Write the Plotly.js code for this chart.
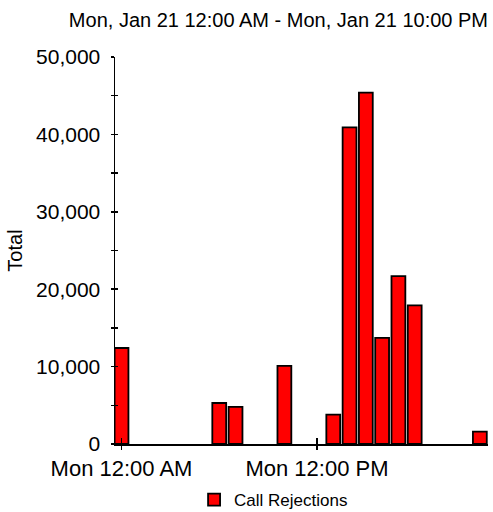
<!DOCTYPE html>
<html>
<head>
<meta charset="utf-8">
<script src="https://cdn.plot.ly/plotly-3.0.1.min.js"></script>
<style>html,body{margin:0;padding:0;background:#fff;}#chart{width:493px;height:512px;}</style>
</head>
<body>
<div id="chart"></div>
<script>
// hour of day (0 = Mon 12:00 AM)
const hours = [0, 6, 7, 10, 13, 14, 15, 16, 17, 18, 22];
const callRejections = [12400, 5300, 4800, 10100, 3800, 40900, 45400, 13700, 21700, 17900, 1600];
const seriesName = "Call Rejections";
const chartTitle = "Mon, Jan 21 12:00 AM - Mon, Jan 21 10:00 PM";
const xTickVals = [0, 12];
const xTickText = ["Mon 12:00 AM", "Mon 12:00 PM"];
const yTickVals = [0, 10000, 20000, 30000, 40000, 50000];
const yTickText = ["0", "10,000", "20,000", "30,000", "40,000", "50,000"];

const FONT = "Arial, 'Liberation Sans', sans-serif";
const xRange = [-0.4, 22.5];
const yRange = [0, 50000];

const data = [{
  type: "bar",
  x: hours,
  y: callRejections,
  name: seriesName,
  width: 0.85,
  marker: {color: "#ff0000", line: {color: "#000000", width: 1.8}},
  showlegend: true
}];

const layout = {
  width: 493, height: 512,
  margin: {l: 115, r: 5, t: 57, b: 68, autoexpand: false},
  paper_bgcolor: "#ffffff", plot_bgcolor: "#ffffff",
  font: {family: FONT, color: "#000"},
  bargap: 0,
  title: {
    text: chartTitle,
    font: {family: FONT, size: 20, color: "#000"},
    xref: "paper", x: 1, xanchor: "right",
    yref: "container", y: 1 - 20/512, yanchor: "middle"
  },
  xaxis: {
    range: xRange, showgrid: false, zeroline: false,
    showline: true, linecolor: "#000", linewidth: 1.5,
    tickmode: "array", tickvals: xTickVals, ticktext: xTickText,
    ticks: "outside", ticklen: 4, tickwidth: 1.5, tickcolor: "#000",
    tickfont: {family: FONT, size: 22, color: "#000"},
    ticklabelstandoff: 0,
    automargin: false,
    fixedrange: true
  },
  xaxis2: {
    overlaying: "x", range: xRange, showgrid: false, zeroline: false,
    showline: false, tickmode: "array", tickvals: xTickVals,
    ticks: "inside", ticklen: 6, tickwidth: 1.5, tickcolor: "#000",
    showticklabels: false
  },
  yaxis: {
    range: yRange, showgrid: false, zeroline: false,
    showline: true, linecolor: "#000", linewidth: 1.5,
    tickmode: "array", tickvals: yTickVals, ticktext: yTickText,
    ticks: "outside", ticklen: 3, tickwidth: 1.5, tickcolor: "#000",
    minor: {dtick: 5000, ticks: "outside", ticklen: 3, tickwidth: 1.5, tickcolor: "#000", showgrid: false},
    tickfont: {family: FONT, size: 21, color: "#000"},
    ticklabelstandoff: 6,
    title: {text: "Total", font: {family: FONT, size: 20, color: "#000"}, standoff: 8},
    automargin: false,
    fixedrange: true
  },
  yaxis2: {
    overlaying: "y", range: yRange, showgrid: false, zeroline: false,
    showline: false, tickmode: "linear", tick0: 0, dtick: 5000,
    ticks: "inside", ticklen: 3, tickwidth: 1.5, tickcolor: "#000",
    showticklabels: false
  },
  legend: {
    orientation: "h",
    x: 0.212, xanchor: "left",
    y: -0.145, yanchor: "middle",
    font: {family: FONT, size: 17, color: "#000"},
    itemwidth: 30
  }
};

// invisible helper trace so the overlay axes draw their cross ticks
data.push({type: "scatter", x: [xRange[0]], y: [0], xaxis: "x2", yaxis: "y2", mode: "markers", marker: {opacity: 0}, showlegend: false, hoverinfo: "skip"});

Plotly.newPlot("chart", data, layout, {staticPlot: true, displayModeBar: false});
</script>
</body>
</html>
